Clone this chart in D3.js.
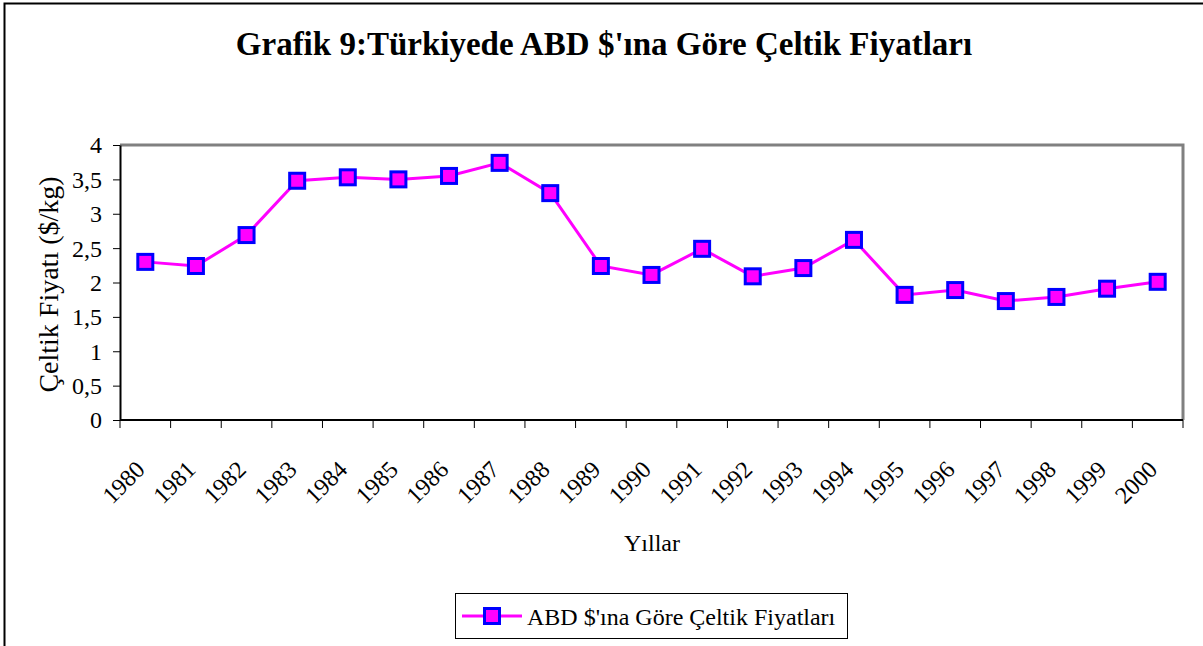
<!DOCTYPE html>
<html>
<head>
<meta charset="utf-8">
<script src="https://cdn.jsdelivr.net/npm/d3@7"></script>
<style>
  body { margin: 0; background: #fff; }
  svg { display: block; font-family: "Liberation Serif", "Times New Roman", serif; }
</style>
</head>
<body>
<svg id="chart"></svg>
<script>
// chart data
const years = ["1980", "1981", "1982", "1983", "1984", "1985", "1986", "1987", "1988", "1989", "1990",
  "1991", "1992", "1993", "1994", "1995", "1996", "1997", "1998", "1999", "2000"];
const prices = [2.30, 2.24, 2.69, 3.48, 3.53, 3.50, 3.55, 3.74, 3.30, 2.24, 2.11,
  2.49, 2.09, 2.21, 2.62, 1.82, 1.89, 1.73, 1.79, 1.91, 2.01];
const yTicks = [0, 0.5, 1, 1.5, 2, 2.5, 3, 3.5, 4];

const titleText = "Grafik 9:Türkiyede ABD $'ına Göre Çeltik Fiyatları";
const seriesName = "ABD $'ına Göre Çeltik Fiyatları";

// sizes
const width = 1203, height = 646;
const plot = { left: 120, top: 145, right: 1183, bottom: 420 };
const lineColor = "#FF00FF", markerStroke = "#0000FF";
const fs = 24;

const svg = d3.select("#chart").attr("width", width).attr("height", height);

// outer frame (only left and top are visible in the crop)
svg.append("path")
  .attr("d", `M4.5,${height} V3.5 H${width}`)
  .attr("fill", "none").attr("stroke", "#000").attr("stroke-width", 2);

svg.append("text")
  .attr("x", 604).attr("y", 55)
  .attr("text-anchor", "middle")
  .attr("font-size", 33).attr("font-weight", "bold")
  .text(titleText);

const x = d3.scaleBand().domain(years).range([plot.left, plot.right]);
const y = d3.scaleLinear().domain([0, 4]).range([plot.bottom, plot.top]);

// plot area border (gray, top and right)
svg.append("path")
  .attr("d", `M${plot.left},${plot.top} H${plot.right} V${plot.bottom}`)
  .attr("fill", "none").attr("stroke", "#808080").attr("stroke-width", 3);

// y axis
const yAxis = svg.append("g")
  .attr("transform", `translate(${plot.left},0)`)
  .call(d3.axisLeft(y).tickValues(yTicks).tickSize(7).tickSizeOuter(0)
    .tickFormat(d => String(d).replace(".", ",")));
yAxis.select(".domain").attr("stroke", "#000").attr("stroke-width", 2);
yAxis.selectAll(".tick line").attr("stroke", "#000");
yAxis.selectAll(".tick text")
  .attr("font-family", "Liberation Serif, serif")
  .attr("font-size", fs).attr("fill", "#000").attr("x", -18).attr("dy", "0.33em");

// x axis: ticks at band boundaries
const xAxis = svg.append("g").attr("transform", `translate(0,${plot.bottom})`);
xAxis.append("line")
  .attr("x1", plot.left).attr("x2", plot.right)
  .attr("stroke", "#000").attr("stroke-width", 2);
const bounds = years.map(d => x(d)).concat([plot.right]);
xAxis.selectAll(".tk").data(bounds).join("line")
  .attr("class", "tk")
  .attr("x1", d => d).attr("x2", d => d)
  .attr("y1", 0).attr("y2", 8)
  .attr("stroke", "#000");
xAxis.selectAll(".lbl").data(years).join("text")
  .attr("class", "lbl")
  .attr("font-size", fs)
  .attr("text-anchor", "end")
  .attr("transform", d => `translate(${x(d) + x.bandwidth() / 2 + 1},51) rotate(-45)`)
  .text(d => d);

// axis titles
svg.append("text")
  .attr("transform", `translate(58,${(plot.top + plot.bottom) / 2 + 2}) rotate(-90)`)
  .attr("text-anchor", "middle").attr("font-size", 28)
  .text("Çeltik Fiyatı ($/kg)");
svg.append("text")
  .attr("x", 652).attr("y", 551)
  .attr("text-anchor", "middle").attr("font-size", fs)
  .text("Yıllar");

// series line
const cx = (d, i) => x(years[i]) + x.bandwidth() / 2;
const line = d3.line().x(cx).y(d => y(d));
svg.append("path")
  .datum(prices)
  .attr("d", line)
  .attr("fill", "none").attr("stroke", lineColor).attr("stroke-width", 3);

const m = 15;
svg.append("g").selectAll("rect").data(prices).join("rect")
  .attr("x", (d, i) => cx(d, i) - m / 2)
  .attr("y", d => y(d) - m / 2)
  .attr("width", m).attr("height", m)
  .attr("fill", lineColor).attr("stroke", markerStroke).attr("stroke-width", 3);

// legend
const lg = svg.append("g").attr("transform", "translate(455,593)");
lg.append("rect")
  .attr("x", 0.5).attr("y", 0.5).attr("width", 392).attr("height", 45)
  .attr("fill", "#fff").attr("stroke", "#000");
lg.append("line")
  .attr("x1", 7).attr("x2", 67).attr("y1", 23).attr("y2", 23)
  .attr("stroke", lineColor).attr("stroke-width", 3);
lg.append("rect")
  .attr("x", 37 - m / 2).attr("y", 23 - m / 2).attr("width", m).attr("height", m)
  .attr("fill", lineColor).attr("stroke", markerStroke).attr("stroke-width", 3);
lg.append("text")
  .attr("x", 72).attr("y", 32).attr("font-size", fs)
  .text(seriesName);
</script>
</body>
</html>
